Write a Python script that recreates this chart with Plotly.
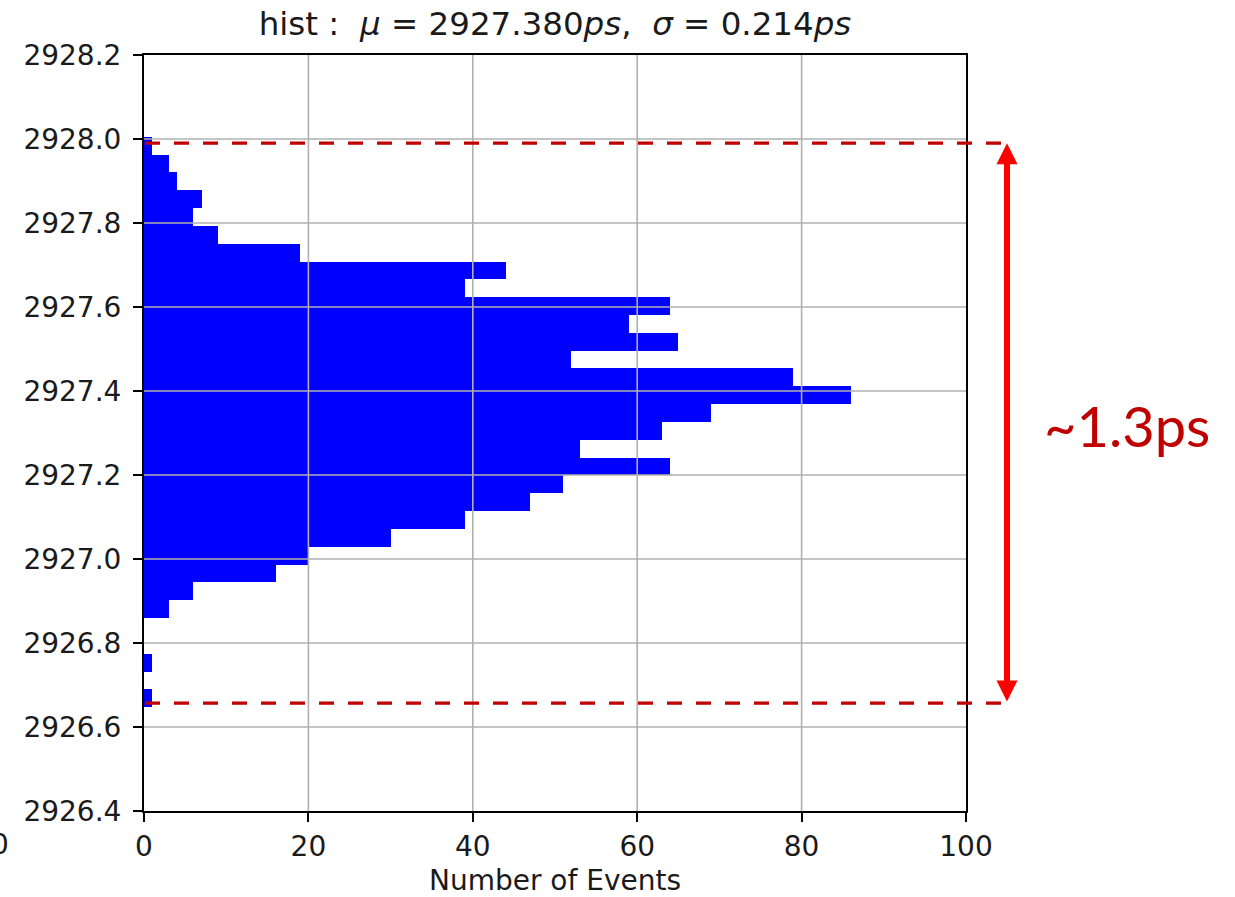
import numpy as np
import plotly.graph_objects as go

# ---- data ----
counts = [1, 3, 4, 7, 6, 9, 19, 44, 39, 64, 59, 65, 52, 79, 86, 69,
          63, 53, 64, 51, 47, 39, 30, 20, 16, 6, 3, 0, 0, 1, 0, 1]  # top -> bottom
bin_top = 2928.0055
bin_bottom = 2926.647
y_ticks = [2926.4, 2926.6, 2926.8, 2927.0, 2927.2, 2927.4, 2927.6, 2927.8, 2928.0, 2928.2]
x_ticks = [0, 20, 40, 60, 80, 100]
band_top = 2927.99
band_bottom = 2926.657
title_text = ("hist\u00a0:\u00a0 <i>μ</i>\u00a0=\u00a02927.380<i>ps</i>,\u00a0\u00a0"
              "<i>σ</i>\u00a0=\u00a00.214<i>ps</i>")
note_text = "~1.3ps"

n = len(counts)
edges = np.linspace(bin_top, bin_bottom, n + 1)
centers = (edges[:-1] + edges[1:]) / 2
binw = (bin_top - bin_bottom) / n

W, H = 1235, 897
L, R, T, B = 144, 269, 55, 86
pw = W - L - R

def px_to_paper_x(px):
    return (px - L) / pw

fig = go.Figure()
fig.add_trace(go.Bar(
    x=counts, y=centers, width=binw, orientation="h",
    marker=dict(color="#0000ff", line=dict(width=0)),
    showlegend=False, hoverinfo="skip",
))

font = dict(family="DejaVu Sans", size=28, color="#1a1a1a")
fig.update_layout(
    width=W, height=H,
    margin=dict(l=L, r=R, t=T, b=B, pad=0, autoexpand=False),
    paper_bgcolor="white", plot_bgcolor="white",
    bargap=0,
    font=font,
    title=dict(text=title_text, x=px_to_paper_x(555), xref="paper", xanchor="center",
               y=1 - 24 / H, yref="container", yanchor="middle",
               font=dict(family="DejaVu Sans", size=32.5, color="#1a1a1a")),
    xaxis=dict(range=[0, 100], tickvals=x_ticks, ticks="outside", ticklen=9, tickwidth=2,
               tickcolor="black", showline=True, linecolor="black", linewidth=2, mirror=True,
               showgrid=False, zeroline=False, tickfont=font, automargin=False,
               title=dict(text="Number of Events", standoff=10, font=font)),
    yaxis=dict(range=[2926.4, 2928.2], tickvals=y_ticks, tickformat=".1f", ticks="outside",
               ticklen=9, tickwidth=2, tickcolor="black", showline=True, linecolor="black",
               linewidth=2, mirror=True, showgrid=False, zeroline=False, tickfont=font,
               ticklabelstandoff=6, automargin=False),
)

shapes = []
# grid lines drawn above the bars (as in the reference)
for xv in x_ticks[1:-1]:
    shapes.append(dict(type="line", xref="x", yref="y domain", x0=xv, x1=xv, y0=0, y1=1,
                       line=dict(color="#b0b0b0", width=1.6), layer="above"))
for yv in y_ticks[1:-1]:
    shapes.append(dict(type="line", xref="x domain", yref="y", x0=0, x1=1, y0=yv, y1=yv,
                       line=dict(color="#b0b0b0", width=1.6), layer="above"))
# red dashed band markers
for yv in (band_top, band_bottom):
    shapes.append(dict(type="line", xref="paper", yref="y", x0=px_to_paper_x(145),
                       x1=px_to_paper_x(1007), y0=yv, y1=yv,
                       line=dict(color="#c00000", width=3.2, dash="15px,14px"), layer="above"))
fig.update_layout(shapes=shapes)

# double-headed arrow
fig.add_annotation(x=px_to_paper_x(1007), xref="paper", y=band_top, yref="y",
                   ax=0, axref="pixel", ay=band_bottom, ayref="y",
                   showarrow=True, arrowhead=2, startarrowhead=2, arrowside="end+start",
                   arrowwidth=6, arrowsize=0.7, startarrowsize=0.7, arrowcolor="#ff0000",
                   text="")
# "~1.3ps" label
fig.add_annotation(x=px_to_paper_x(1127), xref="paper", y=1 - (425 - T) / (H - T - B),
                   yref="paper", text=note_text, showarrow=False, xanchor="center",
                   yanchor="middle", font=dict(family="Lato", size=56, color="#c00000"))
# cut-off "0" at far left (cut in the reference too)
fig.add_annotation(x=px_to_paper_x(0), xref="paper", y=1 - (845 - T) / (H - T - B),
                   yref="paper", text="0", showarrow=False, xanchor="center",
                   yanchor="middle", font=font)

fig.write_html("out.html")
